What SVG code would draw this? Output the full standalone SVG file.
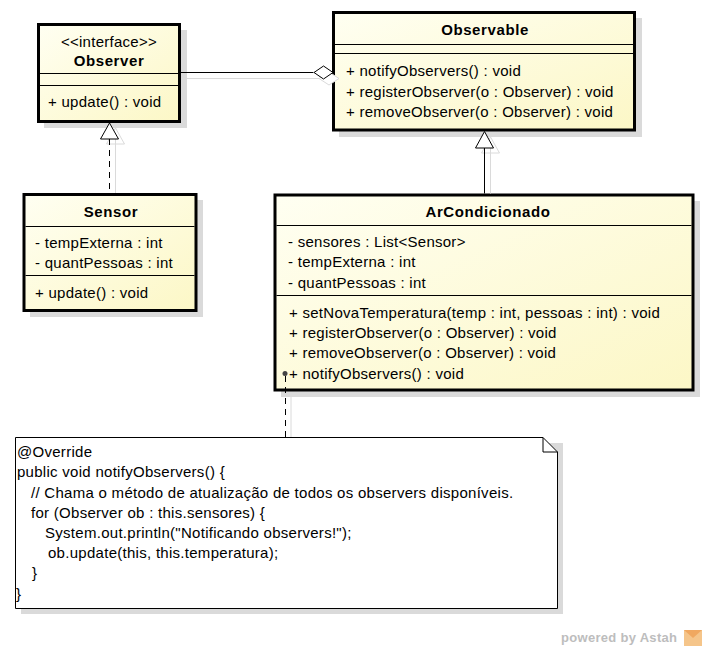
<svg xmlns="http://www.w3.org/2000/svg" width="706" height="650" viewBox="0 0 706 650">
<defs>
<linearGradient id="cls" x1="0" y1="0" x2="1" y2="1">
<stop offset="0" stop-color="#FFFFF2"/>
<stop offset="1" stop-color="#FCF7C6"/>
</linearGradient>
</defs>
<style>
.box{fill:url(#cls);stroke:#000;stroke-width:3}
.sh{fill:#DADADA}
.sep{stroke:#000;stroke-width:1}
text{font-family:"Liberation Sans",Arial,sans-serif;font-size:15px;fill:#000;letter-spacing:0.27px}
.t{font-weight:bold;text-anchor:middle;letter-spacing:0.6px}
.c{text-anchor:middle}
.n{font-size:15px;letter-spacing:0.28px}
.shl{stroke:#DADADA;stroke-width:1;fill:none}
</style>
<rect width="706" height="650" fill="#fff"/>
<g id="Observer">
<rect class="sh" x="44" y="30" width="143" height="98"/>
<rect class="box" x="38.5" y="24.5" width="141" height="97"/>
<line class="sep" x1="40" y1="73.5" x2="178" y2="73.5"/>
<line class="sep" x1="40" y1="85.5" x2="178" y2="85.5"/>
<text class="c" x="109" y="47">&lt;&lt;interface&gt;&gt;</text>
<text class="t" x="109" y="66">Observer</text>
<text x="48" y="107">+ update() : void</text>
</g>
<g id="Observable">
<rect class="sh" x="339" y="18" width="303" height="119"/>
<rect class="box" x="333.5" y="12.5" width="301" height="117.5"/>
<line class="sep" x1="335" y1="44.5" x2="633" y2="44.5"/>
<line class="sep" x1="335" y1="53.5" x2="633" y2="53.5"/>
<text class="t" x="485" y="35">Observable</text>
<text x="346" y="76">+ notifyObservers() : void</text>
<text x="346" y="97">+ registerObserver(o : Observer) : void</text>
<text x="346" y="117">+ removeObserver(o : Observer) : void</text>
</g>
<g id="Sensor">
<rect class="sh" x="30" y="200" width="173" height="117"/>
<rect class="box" x="24" y="194.5" width="172" height="116"/>
<line class="sep" x1="25.5" y1="226.5" x2="194.5" y2="226.5"/>
<line class="sep" x1="25.5" y1="275.5" x2="194.5" y2="275.5"/>
<text class="t" x="111" y="217">Sensor</text>
<text x="35" y="248">- tempExterna : int</text>
<text x="35" y="268">- quantPessoas : int</text>
<text x="35" y="298">+ update() : void</text>
</g>
<g id="ArCondicionado">
<rect class="sh" x="281" y="201" width="419" height="196"/>
<rect class="box" x="275" y="195" width="418" height="195"/>
<line class="sep" x1="276.5" y1="225.5" x2="691.5" y2="225.5"/>
<line class="sep" x1="276.5" y1="295.5" x2="691.5" y2="295.5"/>
<text class="t" x="488" y="217">ArCondicionado</text>
<text x="288" y="247">- sensores : List&lt;Sensor&gt;</text>
<text x="288" y="267">- tempExterna : int</text>
<text x="288" y="288">- quantPessoas : int</text>
<text x="289" y="318">+ setNovaTemperatura(temp : int, pessoas : int) : void</text>
<text x="289" y="338">+ registerObserver(o : Observer) : void</text>
<text x="289" y="358">+ removeObserver(o : Observer) : void</text>
<text x="289" y="379">+ notifyObservers() : void</text>
</g>
<g id="note">
<polygon points="21,443 563,443 563,614 21,614" fill="#DADADA"/>
<polygon points="15.5,437.5 543,437.5 557.5,452 557.5,608.5 15.5,608.5" fill="#fff" stroke="#000"/>
<polyline points="543,437.5 543,452 557.5,452" fill="none" stroke="#000"/>
<text class="n" x="17" y="457">@Override</text>
<text class="n" x="17" y="477">public void notifyObservers() {</text>
<text class="n" x="31" y="498">// Chama o método de atualização de todos os observers disponíveis.</text>
<text class="n" x="31" y="518">for (Observer ob : this.sensores) {</text>
<text class="n" x="45" y="538">System.out.println("Notificando observers!");</text>
<text class="n" x="48" y="558">ob.update(this, this.temperatura);</text>
<text class="n" x="32" y="578">}</text>
<text class="n" x="16" y="599">}</text>
</g>
<g id="connectors">
<line class="shl" x1="186" y1="78.5" x2="335" y2="78.5"/>
<polygon points="339,78.5 329,72 319,78.5 329,85" fill="#fff" stroke="#DADADA"/>
<line x1="181" y1="72.5" x2="313.5" y2="72.5" stroke="#000"/>
<polygon points="333,72.5 323.5,66 314,72.5 323.5,79" fill="#fff" stroke="#000"/>
<line class="shl" x1="115.5" y1="138" x2="115.5" y2="193"/>
<polygon points="115.5,128 124.5,144 106.5,144" fill="none" stroke="#DADADA"/>
<line x1="109.5" y1="139" x2="109.5" y2="193" stroke="#000" stroke-dasharray="6,5"/>
<polygon points="109.5,123 118.5,139 100.5,139" fill="#fff" stroke="#000"/>
<line class="shl" x1="490.5" y1="148" x2="490.5" y2="193.5"/>
<polygon points="490.5,137 499.5,153 481.5,153" fill="none" stroke="#DADADA"/>
<line x1="484.5" y1="148" x2="484.5" y2="193.5" stroke="#000"/>
<polygon points="484.5,131.5 493.5,148 475.5,148" fill="#fff" stroke="#000"/>
<line class="shl" x1="291" y1="392" x2="291" y2="437"/>
<line x1="285.5" y1="376" x2="285.5" y2="437" stroke="#000" stroke-dasharray="6,5"/>
<circle cx="285" cy="373.5" r="2.5" fill="#444"/>
</g>
<g id="watermark">
<text x="561" y="642" style="font-size:13px;font-weight:bold;fill:#BDBDBD;letter-spacing:0.3px">powered by Astah</text>
<rect x="684" y="630" width="18" height="16" fill="#F5C58A"/>
<polygon points="684,630 702,630 693,638" fill="#F0A860"/>
</g>
</svg>
